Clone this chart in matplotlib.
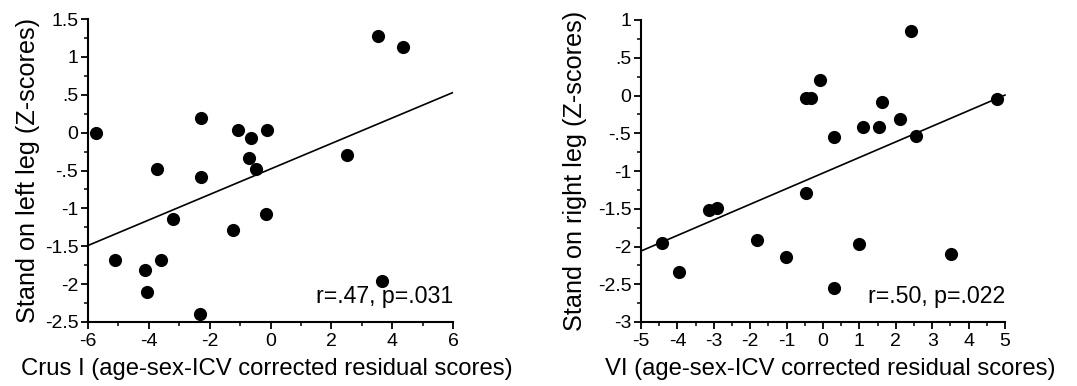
import matplotlib
matplotlib.use("Agg")
import matplotlib.pyplot as plt
from matplotlib.ticker import MultipleLocator, FuncFormatter

plt.rcParams['font.family'] = ['Liberation Sans', 'DejaVu Sans']
plt.rcParams['axes.unicode_minus'] = False

# Left panel: Crus I vs stand on left leg
crus_x = [-5.73, -2.28, -1.08, -0.12, -0.65, -0.70, -0.49, -3.74, -2.28, 3.54, 4.37,
          2.53, -3.22, -0.16, -1.22, -5.11, -3.59, -4.11, -4.06, 3.66, -2.31]
left_y = [0.00, 0.19, 0.04, 0.04, -0.07, -0.33, -0.48, -0.48, -0.59, 1.27, 1.13,
          -0.29, -1.14, -1.07, -1.29, -1.68, -1.68, -1.81, -2.10, -1.96, -2.39]
left_fit_x = [-6.0, 6.0]
left_fit_y = [-1.49, 0.53]
left_stat = "r=.47, p=.031"

# Right panel: VI vs stand on right leg
vi_x = [-4.43, -3.96, -3.13, -2.92, -1.80, -1.02, -0.47, -0.47, -0.33, -0.07, 0.31,
        0.31, 1.00, 1.11, 1.54, 1.63, 2.12, 2.41, 2.55, 3.52, 4.78]
right_y = [-1.95, -2.34, -1.52, -1.49, -1.92, -2.14, -1.29, -0.03, -0.03, 0.21, -0.55,
           -2.55, -1.97, -0.42, -0.42, -0.09, -0.31, 0.85, -0.53, -2.10, -0.04]
right_fit_x = [-5.0, 5.02]
right_fit_y = [-2.06, 0.01]
right_stat = "r=.50, p=.022"


def fmt(v, pos):
    if abs(v) < 1e-9:
        return "0"
    s = ("%g" % v)
    s = s.replace("0.", ".")
    return s


fig = plt.figure(figsize=(10.77, 3.86), dpi=100)
ax1 = fig.add_axes([88/1077, 1-322/386, 365/1077, 303/386])
ax2 = fig.add_axes([641/1077, 1-322/386, 364/1077, 302/386])

panels = [
    (ax1, crus_x, left_y, left_fit_x, left_fit_y, left_stat, (-6, 6), (-2.5, 1.5), 2, 1,
     "Crus I (age-sex-ICV corrected residual scores)", "Stand on left leg (Z-scores)", 3, 0.49),
    (ax2, vi_x, right_y, right_fit_x, right_fit_y, right_stat, (-5, 5), (-3, 1), 1, 0.5,
     "VI (age-sex-ICV corrected residual scores)", "Stand on right leg (Z-scores)", 8, 0.52),
]

for ax, xs, ys, fx, fy, stat, xl, yl, xmaj, xmin, xlab, ylab, ylpad, xlx in panels:
    ax.plot(fx, fy, color='black', lw=1.2, solid_capstyle='butt', clip_on=False)
    ax.scatter(xs, ys, s=90, color='black', zorder=3, clip_on=False, linewidths=0)
    ax.set_xlim(*xl)
    ax.set_ylim(*yl)
    for sp in ['top', 'right']:
        ax.spines[sp].set_visible(False)
    for sp in ['left', 'bottom']:
        ax.spines[sp].set_linewidth(1.5)
    ax.xaxis.set_major_locator(MultipleLocator(xmaj))
    ax.xaxis.set_minor_locator(MultipleLocator(xmin))
    ax.yaxis.set_major_locator(MultipleLocator(0.5))
    ax.yaxis.set_minor_locator(MultipleLocator(0.25))
    ax.xaxis.set_major_formatter(FuncFormatter(fmt))
    ax.yaxis.set_major_formatter(FuncFormatter(fmt))
    ax.tick_params(which='major', length=5, width=1.3, labelsize=14, pad=2, color='black')
    ax.tick_params(axis='x', which='major', pad=3)
    ax.tick_params(which='minor', length=3, width=1.1, color='black')
    ax.set_xlabel(xlab, fontsize=17.2, labelpad=5)
    ax.xaxis.set_label_coords(xlx, -0.118)
    ax.xaxis.label.set_va('top')
    ax.set_ylabel(ylab, fontsize=18.2, labelpad=ylpad)
    ax.text(1.0, 0.045, stat, transform=ax.transAxes, ha='right', va='bottom', fontsize=16.7)

fig.savefig("out.png", dpi=100)
